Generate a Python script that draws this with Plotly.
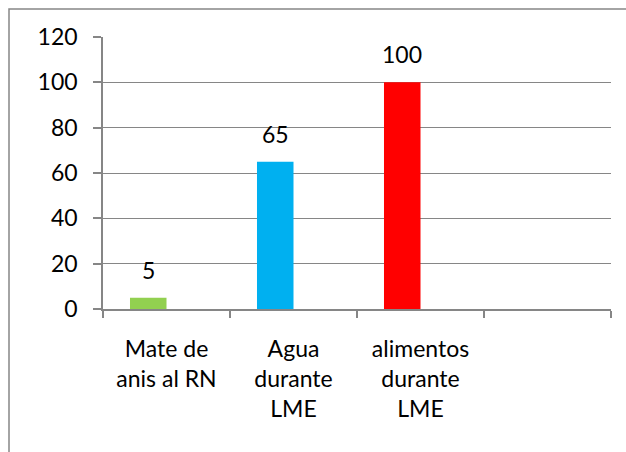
import plotly.graph_objects as go

categories = ["Mate de<br>anis al RN", "Agua<br>durante<br>LME", "alimentos<br>durante<br>LME", " "]
values = [5, 65, 100, None]
bar_colors = ["#92D050", "#00B0F0", "#FF0000", "#FFFFFF"]
y_ticks = [0, 20, 40, 60, 80, 100, 120]

FONT = dict(family="Lato, Liberation Sans, sans-serif", size=23, color="#000000")
GRAY = "#868686"

fig = go.Figure()
fig.add_trace(go.Bar(x=categories, y=values, marker=dict(color=bar_colors, line=dict(width=0)),
                     showlegend=False, hoverinfo="skip"))
fig.add_trace(go.Bar(x=categories, y=[None] * len(categories), showlegend=False, hoverinfo="skip"))

for c, v in zip(categories, values):
    if v is not None:
        fig.add_annotation(x=c, y=v, text=str(v), showarrow=False, yanchor="bottom",
                           yshift=12, xshift=-18.5, font=FONT)

fig.update_layout(
    width=626, height=452,
    margin=dict(l=103, r=15, t=37, b=143),
    paper_bgcolor="white", plot_bgcolor="white",
    barmode="group", bargap=0.425, bargroupgap=0,
    font=FONT,
    xaxis=dict(type="category", tickson="boundaries", ticks="outside", ticklen=7,
               tickcolor=GRAY, tickwidth=1.5, showline=True, linecolor=GRAY, linewidth=1.5,
               showgrid=False, tickfont=FONT, ticklabelstandoff=19),
    yaxis=dict(range=[0, 120], tickvals=y_ticks, ticks="outside", ticklen=8,
               tickcolor=GRAY, tickwidth=1.5, showline=True, linecolor=GRAY, linewidth=1.5,
               showgrid=True, gridcolor=GRAY, gridwidth=1.3, zeroline=False,
               tickfont=FONT, ticklabelstandoff=11, mirror=False),
    shapes=[dict(type="rect", xref="paper", yref="paper",
                 x0=(9 - 103) / 508, x1=1.2, y0=-1.0, y1=(309 - 9) / 272,
                 line=dict(color=GRAY, width=1.5), fillcolor="rgba(0,0,0,0)", layer="below")],
)
fig.write_html("out.html")
